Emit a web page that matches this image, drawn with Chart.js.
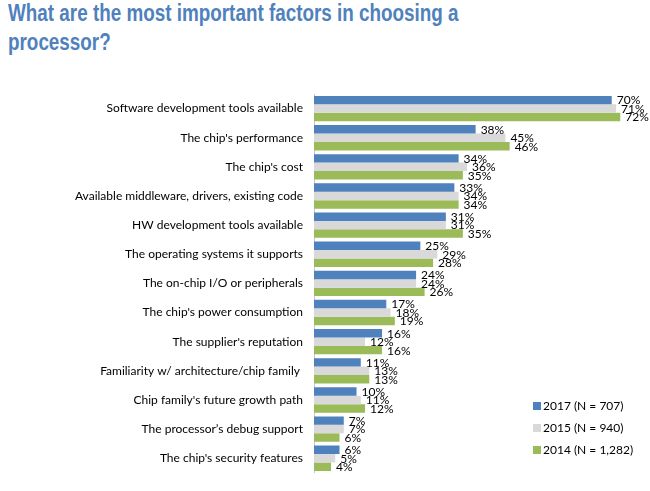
<!DOCTYPE html>
<html>
<head>
<meta charset="utf-8">
<script src="https://cdn.jsdelivr.net/npm/chart.js@4.4.0/dist/chart.umd.min.js"></script>
<style>
  html, body { margin: 0; padding: 0; background: #fff; }
  #wrap { position: relative; width: 650px; height: 491px; overflow: hidden; }
  #title {
    position: absolute; left: 8px; top: -1px;
    font-family: "Liberation Sans", Arial, sans-serif; font-weight: bold;
    font-size: 23px; line-height: 29px; color: #4f81bd;
    white-space: nowrap; transform-origin: 0 0; transform: scaleX(0.82);
  }
  #myChart { position: absolute; left: 0; top: 0; }
</style>
</head>
<body>
<div id="wrap">
  <div id="title">What are the most important factors in choosing a<br>processor?</div>
  <canvas id="myChart" width="650" height="491"></canvas>
</div>
<script>
const categories = [
    "Software development tools available",
    "The chip's performance",
    "The chip's cost",
    "Available middleware, drivers, existing code",
    "HW development tools available",
    "The operating systems it supports",
    "The on-chip I/O or peripherals",
    "The chip's power consumption",
    "The supplier's reputation",
    "Familiarity w/ architecture/chip family ",
    "Chip family's future growth path",
    "The processor\u2019s debug support",
    "The chip's security features"
];
const seriesNames = ["2017 (N = 707)", "2015 (N = 940)", "2014 (N = 1,282)"];
const values2017 = [70, 38, 34, 33, 31, 25, 24, 17, 16, 11, 10, 7, 6];
const values2015 = [71, 45, 36, 34, 31, 29, 24, 18, 12, 13, 11, 7, 5];
const values2014 = [72, 46, 35, 34, 35, 28, 26, 19, 16, 13, 12, 6, 4];
const seriesColors = ["#4f81bd", "#d9d9d9", "#9bbb59"];

const labelFont = "Lato, 'Noto Sans', sans-serif";

// draws the "NN%" text at the end of every bar
const barValueLabels = {
    id: 'barValueLabels',
    afterDatasetsDraw(chart) {
        const c = chart.ctx;
        c.save();
        c.font = "12px " + labelFont;
        c.fillStyle = "#000";
        c.textBaseline = "middle";
        c.textAlign = "left";
        chart.data.datasets.forEach(function (ds, i) {
            chart.getDatasetMeta(i).data.forEach(function (bar, j) {
                c.fillText(ds.data[j] + "%", bar.x + 5, bar.y + 0.5);
            });
        });
        c.restore();
    }
};

// legend in the lower right, inside the plot
const sideLegend = {
    id: 'sideLegend',
    afterDraw(chart) {
        const c = chart.ctx;
        c.save();
        c.font = "12px " + labelFont;
        c.textBaseline = "middle";
        c.textAlign = "left";
        chart.data.datasets.forEach(function (ds, i) {
            let y = 406 + i * 22;
            c.fillStyle = ds.backgroundColor;
            c.fillRect(533, y - 4, 8, 8);
            c.fillStyle = "#000";
            c.fillText(ds.label, 543, y + 0.5);
        });
        c.restore();
    }
};

const ctx = document.getElementById('myChart').getContext('2d');

let myChart = new Chart(ctx, {
    type: 'bar',
    data: {
        labels: categories,
        datasets: [
            { label: seriesNames[0], data: values2017, backgroundColor: seriesColors[0] },
            { label: seriesNames[1], data: values2015, backgroundColor: seriesColors[1] },
            { label: seriesNames[2], data: values2014, backgroundColor: seriesColors[2] }
        ]
    },
    options: {
        indexAxis: 'y',
        responsive: false,
        animation: false,
        devicePixelRatio: 1,
        datasets: {
            bar: { categoryPercentage: 0.87, barPercentage: 1.0 }
        },
        layout: {
            padding: { left: 0, right: 17, top: 94, bottom: 8 }
        },
        plugins: {
            legend: { display: false },
            tooltip: { enabled: false }
        },
        scales: {
            x: {
                display: false,
                min: 0,
                max: 75
            },
            y: {
                afterFit: function (scale) { scale.width = 314; },
                grid: { display: false, drawTicks: false },
                border: { display: true, color: '#c8c8c8', width: 1 },
                ticks: {
                    padding: 11,
                    color: '#000',
                    font: { family: labelFont, size: 12 }
                }
            }
        }
    },
    plugins: [barValueLabels, sideLegend]
});
</script>
</body>
</html>
